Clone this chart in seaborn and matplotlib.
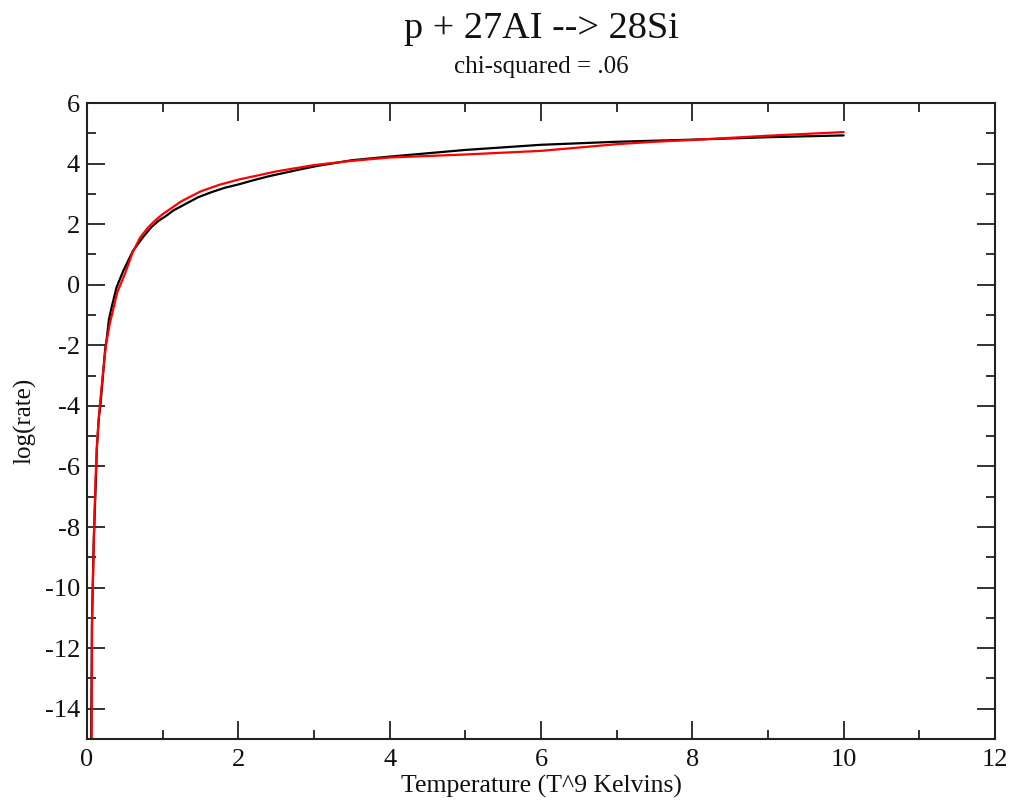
import numpy as np
import pandas as pd
import matplotlib
matplotlib.use("Agg")
import matplotlib.pyplot as plt
import seaborn as sns
from matplotlib.ticker import MultipleLocator

# Data
t9_data = [0.05, 0.066, 0.09, 0.115, 0.13, 0.155, 0.18, 0.24, 0.26, 0.29, 0.33, 0.39,
           0.48, 0.61, 0.74, 0.85, 0.94, 1.05, 1.14, 1.29, 1.47, 1.65, 1.82, 2.0,
           2.2, 2.4, 2.62, 2.84, 3.06, 3.5, 4.0, 5.0, 6.0, 7.0, 8.0, 9.0, 10.0]
log_data = [-17.0, -11.07, -8.4, -6.63, -5.39, -4.45, -3.90, -2.13, -1.80, -1.14, -0.70, -0.09,
            0.46, 1.13, 1.57, 1.90, 2.10, 2.28, 2.45, 2.65, 2.89, 3.06, 3.20, 3.31,
            3.45, 3.58, 3.70, 3.82, 3.93, 4.11, 4.23, 4.45, 4.62, 4.72, 4.79, 4.87, 4.93]

t9_fit = [0.058, 0.066, 0.09, 0.11, 0.13, 0.155, 0.18, 0.2, 0.25, 0.3, 0.4, 0.5, 0.6,
          0.7, 0.8, 0.9, 1.0, 1.25, 1.5, 1.75, 2.0, 2.5, 3.0, 3.5, 4.0, 4.5, 5.0,
          5.5, 6.0, 6.5, 7.0, 7.5, 8.0, 8.5, 9.0, 9.5, 10.0]
log_fit = [-17.0, -11.3, -8.4, -6.6, -5.4, -4.4, -3.7, -3.2, -2.0, -1.3, -0.25, 0.35, 1.05,
           1.55, 1.87, 2.12, 2.33, 2.76, 3.08, 3.30, 3.47, 3.74, 3.95, 4.09, 4.20, 4.25, 4.30,
           4.36, 4.42, 4.53, 4.64, 4.72, 4.78, 4.85, 4.92, 4.98, 5.04]

title = "p + 27AI --> 28Si"
subtitle = "chi-squared = .06"
xlabel = "Temperature (T^9 Kelvins)"
ylabel = "log(rate)"

sns.set_style("ticks")
plt.rcParams['font.family'] = ['Liberation Serif', 'DejaVu Serif']
plt.rcParams['axes.unicode_minus'] = False

fig = plt.figure(figsize=(10.15, 8.02), dpi=100)
ax = fig.add_axes([87/1015, 1 - 739/802, (995-87)/1015, (739-103)/802])

df_data = pd.DataFrame({"T9": t9_data, "log": log_data})
df_fit = pd.DataFrame({"T9": t9_fit, "log": log_fit})
sns.lineplot(data=df_data, x="T9", y="log", ax=ax, color="black", lw=1.6,
             estimator=None, sort=False)
sns.lineplot(data=df_fit, x="T9", y="log", ax=ax, color="#ff0000", lw=1.6,
             estimator=None, sort=False)

ax.set_xlim(0, 12)
ax.set_ylim(-15, 6)
ax.xaxis.set_major_locator(MultipleLocator(2))
ax.xaxis.set_minor_locator(MultipleLocator(1))
ax.yaxis.set_major_locator(MultipleLocator(2))
ax.yaxis.set_minor_locator(MultipleLocator(1))
ax.tick_params(which="both", direction="in", top=True, right=True, width=1.3,
               color="#222222", labelsize=19, labelcolor="#111111")
ax.tick_params(which="major", length=13, pad=5)
ax.tick_params(axis="x", which="major", pad=7)
ax.tick_params(which="minor", length=6.5)
for s in ax.spines.values():
    s.set_linewidth(1.5)
    s.set_color("#222222")

ax.set_xlabel(xlabel, fontsize=18.5, labelpad=3, color="#111111")
ax.set_ylabel(ylabel, fontsize=18, labelpad=6, color="#111111")

cx = (87 + 995) / 2 / 1015
fig.text(cx, 1 - 38/802, title, ha="center", va="baseline", fontsize=27.5, color="#111111")
fig.text(cx, 1 - 73/802, subtitle, ha="center", va="baseline", fontsize=18, color="#111111")

fig.savefig("out.png", dpi=100, facecolor="white")
